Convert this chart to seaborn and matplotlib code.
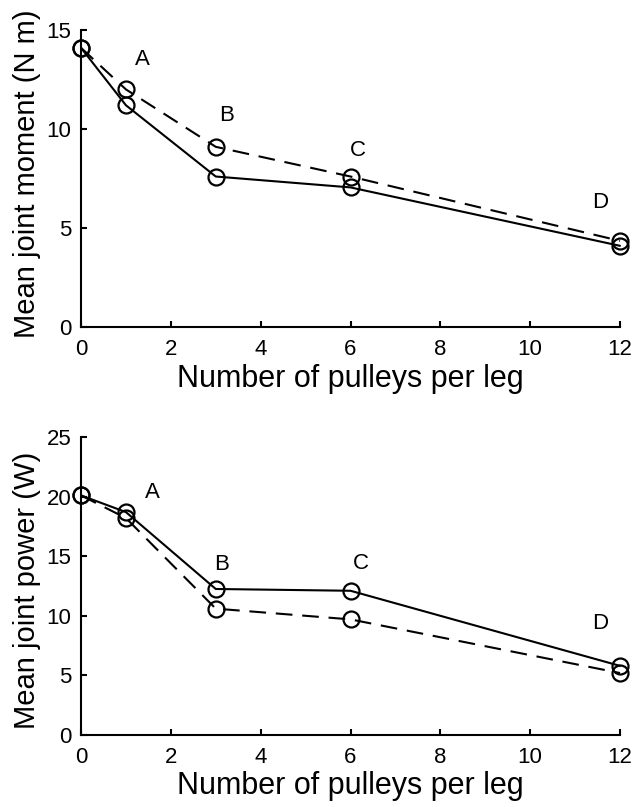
import matplotlib
matplotlib.use("Agg")
import matplotlib.pyplot as plt
import seaborn as sns
import pandas as pd

pulleys = [0, 1, 3, 6, 12]
moment_solid = [14.1, 11.2, 7.6, 7.05, 4.1]
moment_dashed = [14.1, 12.0, 9.1, 7.6, 4.35]
power_solid = [20.1, 18.7, 12.25, 12.1, 5.8]
power_dashed = [20.1, 18.2, 10.6, 9.7, 5.2]
point_labels = ["A", "B", "C", "D"]
moment_label_x = [1.37, 3.23, 6.17, 11.55]
moment_label_y = [13.5, 10.7, 8.9, 6.3]
power_label_x = [1.59, 3.13, 6.24, 11.55]
power_label_y = [20.34, 14.3, 14.35, 9.35]

sns.set_theme(style="white")
plt.rcParams['font.family'] = ['Liberation Sans', 'DejaVu Sans']
plt.rcParams['text.color'] = 'black'
plt.rcParams['axes.labelcolor'] = 'black'

fig = plt.figure(figsize=(6.37, 8.07), dpi=100)
ax1 = fig.add_axes([81/637, 1-327/807, 539/637, 297/807])
ax2 = fig.add_axes([81/637, 1-735/807, 539/637, 298/807])

def draw(ax, solid, dashed, lx, ly, ylim, yticks, ylabel, xlab_y, ylab_y):
    df = pd.DataFrame({"x": pulleys * 2, "y": solid + dashed,
                       "s": ["solid"] * 5 + ["dashed"] * 5})
    for name, ls in [("dashed", (0, (8, 4.7))), ("solid", "-")]:
        d = df[df.s == name]
        sns.lineplot(data=d, x="x", y="y", ax=ax, color="black", linewidth=1.5,
                     linestyle=ls, marker="o", markersize=11.5, markerfacecolor="none",
                     markeredgecolor="black", markeredgewidth=1.6, legend=False)
    for t, x, y in zip(point_labels, lx, ly):
        ax.text(x, y, t, ha="center", va="center", fontsize=16, color="black")
    ax.set_xlim(0, 12)
    ax.set_ylim(*ylim)
    ax.set_xticks([0, 2, 4, 6, 8, 10, 12])
    ax.set_yticks(yticks)
    ax.tick_params(direction="in", length=4, width=1.5, labelsize=16,
                   bottom=True, left=True, colors="black")
    ax.tick_params(axis="x", pad=8.5)
    ax.tick_params(axis="y", pad=7)
    for s in ["top", "right"]:
        ax.spines[s].set_visible(False)
    for s in ["left", "bottom"]:
        ax.spines[s].set_linewidth(1.5)
        ax.spines[s].set_color("black")
    ax.set_xlabel("Number of pulleys per leg", fontsize=22, color="black")
    ax.set_ylabel(ylabel, fontsize=21, color="black")
    ax.xaxis.set_label_coords(0.5, xlab_y)
    ax.yaxis.set_label_coords(-0.0742, ylab_y)
    ax.patch.set_alpha(0)
    for line in ax.lines:
        line.set_clip_on(False)

draw(ax1, moment_solid, moment_dashed, moment_label_x, moment_label_y,
     (0, 15), [0, 5, 10, 15], "Mean joint moment (N m)", -0.1246, 0.517)
draw(ax2, power_solid, power_dashed, power_label_x, power_label_y,
     (0, 25), [0, 5, 10, 15, 20, 25], "Mean joint power (W)", -0.1208, 0.485)

fig.savefig("out.png", dpi=100, facecolor="white")
